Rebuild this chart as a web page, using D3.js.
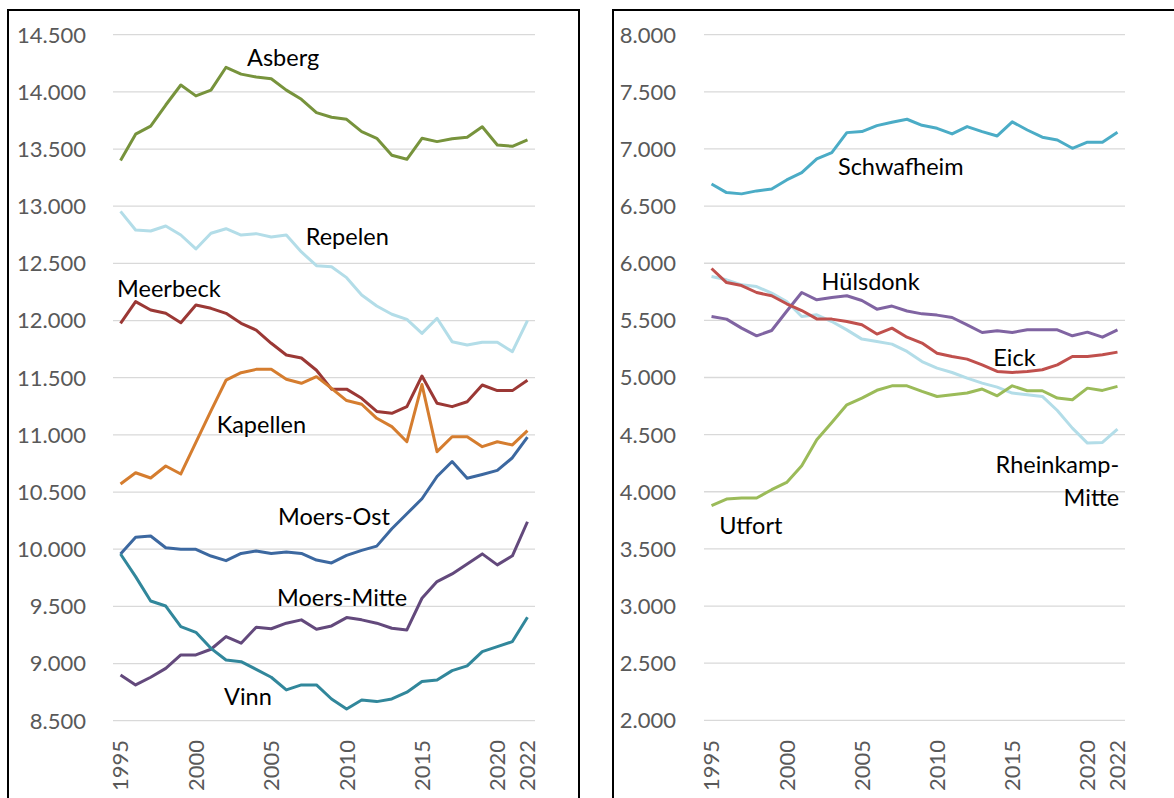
<!DOCTYPE html>
<html>
<head>
  <meta charset="utf-8">
  <title>Einwohner Stadtteile</title>
  <style>
    body { margin: 0; background: #ffffff; }
    svg text { font-family: Lato, "Open Sans", sans-serif; }
    .tick-label { font-size: 22px; fill: #595959; }
    .series-label { font-size: 23.5px; fill: #000000; }
    .grid line { stroke: #d9d9d9; stroke-width: 1.3; }
  </style>
</head>
<body>
  <script src="https://cdn.jsdelivr.net/npm/d3@7"></script>
  <script>
  // years on the category axis
  var years = [1995, 1996, 1997, 1998, 1999, 2000, 2001, 2002, 2003, 2004,
    2005, 2006, 2007, 2008, 2009, 2010, 2011, 2012, 2013, 2014,
    2015, 2016, 2017, 2018, 2019, 2020, 2021, 2022];
  var yearTicks = [1995, 2000, 2005, 2010, 2015, 2020, 2022];

  var leftTicks = [8500, 9000, 9500, 10000, 10500, 11000, 11500, 12000, 12500, 13000, 13500, 14000, 14500];
  var rightTicks = [2000, 2500, 3000, 3500, 4000, 4500, 5000, 5500, 6000, 6500, 7000, 7500, 8000];

  // left panel series
  var asberg = [13400, 13630, 13700, 13885, 14060, 13965, 14015, 14215, 14155, 14130,
    14115, 14015, 13935, 13818, 13778, 13760, 13652, 13594, 13445, 13410,
    13594, 13565, 13590, 13603, 13695, 13535, 13524, 13580];
  var repelen = [12955, 12792, 12783, 12827, 12748, 12626, 12763, 12803, 12748, 12760,
    12731, 12748, 12600, 12480, 12471, 12375, 12224, 12127, 12055, 12010,
    11888, 12020, 11815, 11786, 11810, 11810, 11728, 12000];
  var meerbeck = [11976, 12165, 12092, 12063, 11981, 12136, 12107, 12063, 11976, 11917,
    11801, 11699, 11672, 11565, 11400, 11400, 11320, 11205, 11189, 11247,
    11515, 11276, 11247, 11290, 11436, 11387, 11387, 11478];
  var kapellen = [10570, 10669, 10623, 10728, 10658, 10935, 11210, 11478, 11544, 11573,
    11573, 11486, 11451, 11509, 11407, 11300, 11268, 11145, 11072, 10940,
    11440, 10853, 10984, 10984, 10897, 10940, 10912, 11037];
  var moersOst = [9958, 10104, 10115, 10013, 10000, 9999, 9940, 9900, 9963, 9984,
    9963, 9975, 9963, 9905, 9880, 9946, 9990, 10027, 10179, 10310,
    10441, 10636, 10767, 10621, 10654, 10689, 10800, 10981];
  var moersMitte = [8900, 8813, 8880, 8958, 9075, 9075, 9125, 9236, 9178, 9318,
    9304, 9353, 9382, 9300, 9329, 9402, 9382, 9353, 9309, 9294,
    9571, 9717, 9784, 9871, 9959, 9863, 9942, 10240];
  var vinn = [9958, 9760, 9547, 9503, 9322, 9273, 9133, 9031, 9016, 8949,
    8880, 8769, 8813, 8813, 8690, 8603, 8681, 8667, 8690, 8749,
    8842, 8856, 8938, 8979, 9104, 9148, 9192, 9405];

  // right panel series
  var schwafheim = [6694, 6618, 6607, 6633, 6650, 6729, 6793, 6913, 6968, 7143,
    7152, 7204, 7234, 7260, 7207, 7181, 7132, 7196, 7152, 7114,
    7237, 7166, 7103, 7079, 7006, 7059, 7059, 7146];
  var huelsdonk = [5534, 5511, 5432, 5365, 5411, 5580, 5744, 5680, 5700, 5715,
    5674, 5598, 5625, 5582, 5557, 5546, 5525, 5461, 5394, 5409,
    5394, 5417, 5417, 5417, 5365, 5397, 5353, 5417];
  var eick = [5954, 5831, 5805, 5744, 5715, 5645, 5586, 5513, 5511, 5490,
    5461, 5380, 5432, 5353, 5301, 5213, 5184, 5161, 5111, 5053,
    5044, 5053, 5068, 5111, 5184, 5184, 5199, 5222];
  var rheinkamp = [5884, 5855, 5811, 5796, 5738, 5665, 5534, 5549, 5490, 5417,
    5336, 5315, 5292, 5228, 5140, 5082, 5044, 4995, 4951, 4916,
    4864, 4849, 4834, 4711, 4557, 4426, 4432, 4548];
  var utfort = [3878, 3936, 3945, 3945, 4018, 4082, 4228, 4455, 4607, 4761,
    4820, 4888, 4927, 4927, 4878, 4834, 4849, 4864, 4899, 4840,
    4927, 4884, 4884, 4820, 4805, 4907, 4887, 4922];

  var fmt = d3.formatLocale({ decimal: ",", thousands: ".", grouping: [3], currency: ["", " €"] }).format(",d");

  var svg = d3.select("body").append("svg")
    .attr("width", 1174)
    .attr("height", 798);

  var panels = [{
    frame: { x: 8, y: 10, w: 571, h: 800 },
    xRange: [113, 535],
    yRange: [720.7, 34.7],
    domain: [8500, 14500],
    ticks: leftTicks,
    labelX: 86,
    series: [
      { name: "Asberg", values: asberg, color: "#77933c" },
      { name: "Repelen", values: repelen, color: "#b3dde8" },
      { name: "Meerbeck", values: meerbeck, color: "#9b3835" },
      { name: "Kapellen", values: kapellen, color: "#d57d2f" },
      { name: "Moers-Ost", values: moersOst, color: "#3c68a0" },
      { name: "Moers-Mitte", values: moersMitte, color: "#63497c" },
      { name: "Vinn", values: vinn, color: "#31879b" }
    ],
    labels: [
      { text: ["Asberg"], year: 2003.39, value: 14296 },
      { text: ["Repelen"], year: 2007.29, value: 12731 },
      { text: ["Meerbeck"], year: 1994.77, value: 12276 },
      { text: ["Kapellen"], year: 2001.38, value: 11087 },
      { text: ["Moers-Ost"], year: 2005.45, value: 10282 },
      { text: ["Moers-Mitte"], year: 2005.38, value: 9574 },
      { text: ["Vinn"], year: 2001.87, value: 8707 }
    ]
  }, {
    frame: { x: 613, y: 10, w: 600, h: 800 },
    xRange: [704, 1125],
    yRange: [720.3, 34.7],
    domain: [2000, 8000],
    ticks: rightTicks,
    labelX: 676,
    series: [
      { name: "Schwafheim", values: schwafheim, color: "#4bacc6" },
      { name: "Rheinkamp-Mitte", values: rheinkamp, color: "#b3dde8" },
      { name: "Hülsdonk", values: huelsdonk, color: "#8064a2" },
      { name: "Eick", values: eick, color: "#c0504d" },
      { name: "Utfort", values: utfort, color: "#9bbb59" }
    ],
    labels: [
      { text: ["Schwafheim"], year: 2003.41, value: 6843 },
      { text: ["Hülsdonk"], year: 2002.32, value: 5837 },
      { text: ["Eick"], year: 2013.74, value: 5172 },
      { text: ["Rheinkamp-", "Mitte"], year: 2022.12, value: 4237, anchor: "end" },
      { text: ["Utfort"], year: 1995.52, value: 3703 }
    ]
  }];

  panels.forEach(function(p) {
    var g = svg.append("g");

    // frame
    g.append("rect")
      .attr("x", p.frame.x)
      .attr("y", p.frame.y)
      .attr("width", p.frame.w)
      .attr("height", p.frame.h)
      .attr("fill", "none")
      .attr("stroke", "#000")
      .attr("stroke-width", 2);

    var x = d3.scaleLinear().domain([1994.5, 2022.5]).range(p.xRange);
    var y = d3.scaleLinear().domain(p.domain).range(p.yRange);

    // gridlines
    g.append("g").attr("class", "grid")
      .selectAll("line")
      .data(p.ticks)
      .enter().append("line")
      .attr("x1", p.xRange[0])
      .attr("x2", p.xRange[1])
      .attr("y1", function(d) { return y(d); })
      .attr("y2", function(d) { return y(d); });

    // y tick labels
    g.append("g")
      .selectAll("text")
      .data(p.ticks)
      .enter().append("text")
      .attr("class", "tick-label")
      .attr("x", p.labelX)
      .attr("y", function(d) { return y(d); })
      .attr("dy", "0.36em")
      .attr("text-anchor", "end")
      .text(function(d) { return fmt(d); });

    // x tick labels (rotated)
    g.append("g")
      .selectAll("text")
      .data(yearTicks)
      .enter().append("text")
      .attr("class", "tick-label")
      .attr("transform", function(d) { return "translate(" + x(d) + ",740) rotate(-90)"; })
      .attr("dy", "0.36em")
      .attr("text-anchor", "end")
      .text(function(d) { return d; });

    var line = d3.line()
      .x(function(d, i) { return x(years[i]); })
      .y(function(d) { return y(d); });

    g.append("g")
      .selectAll("path")
      .data(p.series)
      .enter().append("path")
      .attr("d", function(s) { return line(s.values); })
      .attr("fill", "none")
      .attr("stroke", function(s) { return s.color; })
      .attr("stroke-width", 3)
      .attr("stroke-linejoin", "round");

    // series labels
    var lab = g.append("g")
      .selectAll("text")
      .data(p.labels)
      .enter().append("text")
      .attr("class", "series-label")
      .attr("text-anchor", function(d) { return d.anchor || "start"; })
      .attr("y", function(d) { return y(d.value); });
    lab.selectAll("tspan")
      .data(function(d) { return d.text.map(function(t) { return { t: t, d: d }; }); })
      .enter().append("tspan")
      .attr("x", function(o) { return x(o.d.year); })
      .attr("dy", function(o, i) { return i === 0 ? "0.36em" : "1.4em"; })
      .text(function(o) { return o.t; });
  });
  </script>
</body>
</html>
